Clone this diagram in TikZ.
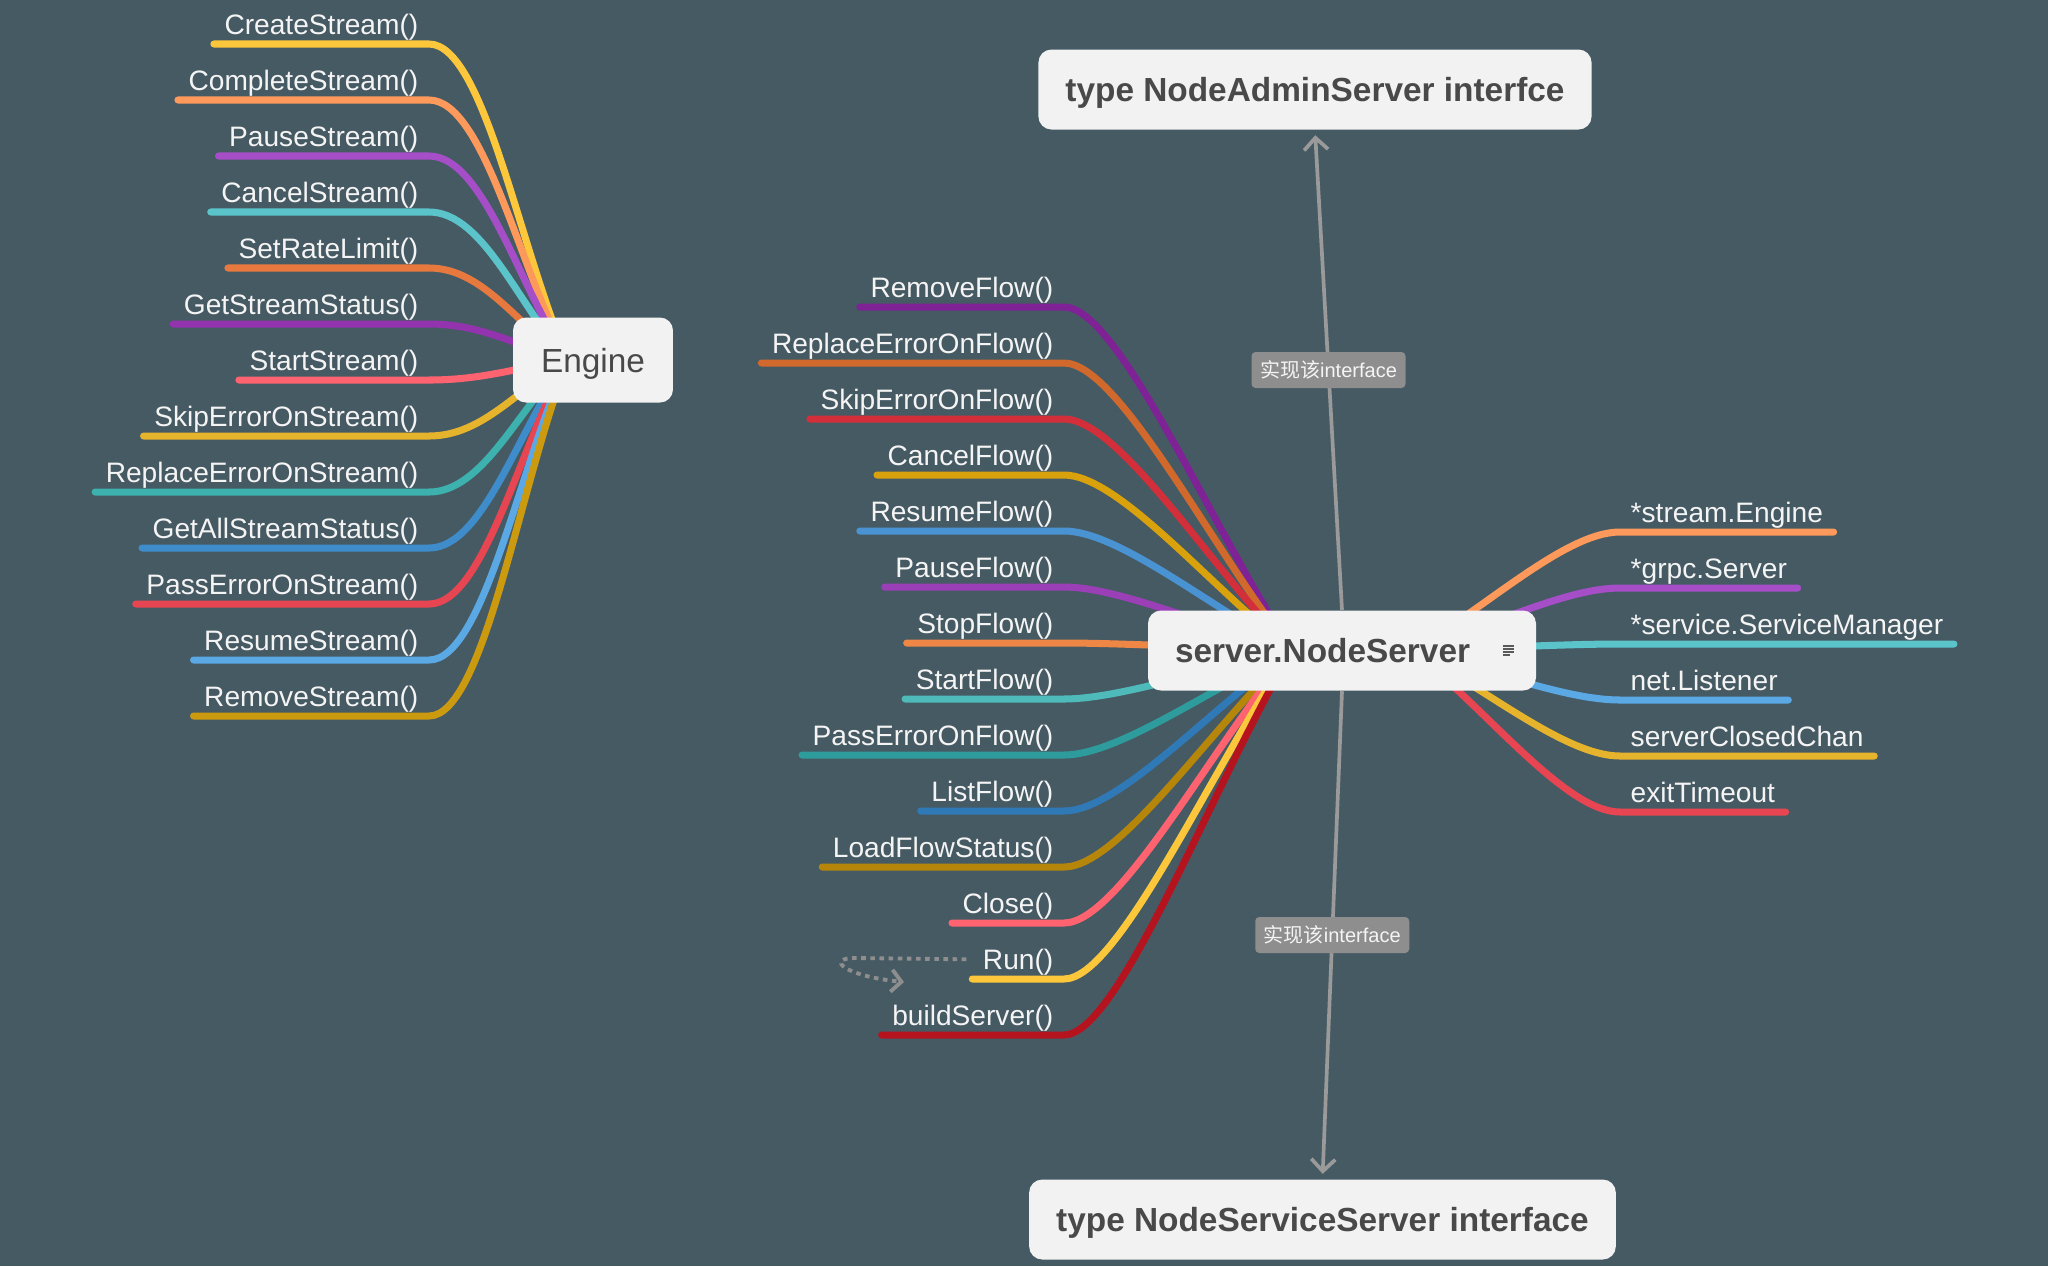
\documentclass[tikz,border=0pt]{standalone}
\usepackage{fontspec}
\setmainfont{Liberation Sans}
\newfontfamily\cjk{Noto Sans CJK SC}
\usetikzlibrary{calc,arrows.meta}

\definecolor{slate}{HTML}{465A64}
\definecolor{boxwhite}{HTML}{F2F2F2}
\definecolor{boxgray}{HTML}{494949}
\definecolor{labelwhite}{HTML}{F4F4F4}
\definecolor{taggray}{HTML}{8E8E8E}
\definecolor{linkgray}{HTML}{9A9A9A}
\definecolor{notegray}{HTML}{5A5A5A}

\definecolor{yellow}{HTML}{FCC73A}
\definecolor{apricot}{HTML}{FD9A5B}
\definecolor{violet}{HTML}{A54EC8}
\definecolor{aqua}{HTML}{5BC4CB}
\definecolor{tangerine}{HTML}{E8793E}
\definecolor{plum}{HTML}{9333AE}
\definecolor{coral}{HTML}{FF6370}
\definecolor{gold}{HTML}{E6B32C}
\definecolor{teal}{HTML}{3DB1AD}
\definecolor{azure}{HTML}{3F8CCB}
\definecolor{crimson}{HTML}{E84553}
\definecolor{sky}{HTML}{5AA9E4}
\definecolor{ochre}{HTML}{CC9A0E}
\definecolor{grape}{HTML}{7E2296}
\definecolor{rust}{HTML}{D2692C}
\definecolor{scarlet}{HTML}{D32F3A}
\definecolor{amber}{HTML}{D9A10C}
\definecolor{cobalt}{HTML}{4A93D2}
\definecolor{orchid}{HTML}{9B3FB6}
\definecolor{carrot}{HTML}{EE8746}
\definecolor{lagoon}{HTML}{4EBABA}
\definecolor{deepteal}{HTML}{2E9C9C}
\definecolor{navy}{HTML}{2F79B7}
\definecolor{bronze}{HTML}{B5860A}
\definecolor{maroon}{HTML}{B5141F}

\pgfdeclarelayer{wires}
\pgfsetlayers{wires,main}

\tikzset{
	fn/.style={font=\fontsize{8}{9}\selectfont, text=labelwhite, inner xsep=0.1cm, inner ysep=0pt, text height=0.21cm, text depth=0.09cm},
	hubbox/.style={fill=boxwhite, text=boxgray, rounded corners=0.13cm, minimum height=0.8cm, inner xsep=0.27cm, text height=0.24cm, text depth=0cm, font=\fontsize{9.5}{11}\selectfont\bfseries},
	branch/.style={draw=#1, line width=2pt, line cap=round},
	limb/.style={to path={.. controls ($(\tikztostart)!0.35!(\tikztotarget)$) and ($(\tikztotarget)+(#1,0)$) .. (\tikztotarget)}},
	link/.style={draw=linkgray, line width=1.05pt, shorten >=0.05cm, -{Straight Barb[length=0.12cm,width=0.24cm]}},
	tag/.style={fill=taggray, text=labelwhite, rounded corners=0.04cm, minimum width=1.54cm, minimum height=0.36cm, inner sep=0pt, font=\fontsize{5.7}{6}\selectfont},
	loopy/.style={draw=taggray, line width=1.1pt, dash pattern=on 1.3pt off 1.3pt, -{Straight Barb[length=0.1cm,width=0.22cm]}}
}

\begin{document}
\begin{tikzpicture}
	\begin{pgfonlayer}{wires}
		\fill[slate] (0,0) rectangle (20.48,-12.66);
	\end{pgfonlayer}

	% Hub boxes
	\node[hubbox, minimum height=0.85cm, inner xsep=0.28cm, font=\fontsize{9.5}{11}\selectfont] (engine) at (5.93,-3.60) {Engine};
	\node[hubbox, text width=3.34cm, align=left] (srv) at (13.42,-6.505) {server.NodeServer};
	\node[hubbox] (admin) at (13.15,-0.895) {type NodeAdminServer interfce};
	\node[hubbox] (svc) at (13.225,-12.195) {type NodeServiceServer interface};

	\coordinate (hubE) at ($(engine.center)+(-0.25,0)$);
	\coordinate (hubL) at ($(srv.center)+(-0.50,0)$);
	\coordinate (hubR) at ($(srv.center)+(0.70,0)$);

	% note icon
	\draw[notegray, line width=0.5pt]
		($(srv.east)+(-0.34,0.045)$) -- +(0.11,0)
		($(srv.east)+(-0.34,0.015)$) -- +(0.11,0)
		($(srv.east)+(-0.34,-0.015)$) -- +(0.11,0)
		($(srv.east)+(-0.34,-0.045)$) -- +(0.07,0);

	% Engine methods
	\node[fn, anchor=south east] (es1) at (4.29,-0.44) {CreateStream()};
	\node[fn, anchor=south east] (es2) at (4.29,-1.00) {CompleteStream()};
	\node[fn, anchor=south east] (es3) at (4.29,-1.56) {PauseStream()};
	\node[fn, anchor=south east] (es4) at (4.29,-2.12) {CancelStream()};
	\node[fn, anchor=south east] (es5) at (4.29,-2.68) {SetRateLimit()};
	\node[fn, anchor=south east] (es6) at (4.29,-3.24) {GetStreamStatus()};
	\node[fn, anchor=south east] (es7) at (4.29,-3.80) {StartStream()};
	\node[fn, anchor=south east] (es8) at (4.29,-4.36) {SkipErrorOnStream()};
	\node[fn, anchor=south east] (es9) at (4.29,-4.92) {ReplaceErrorOnStream()};
	\node[fn, anchor=south east] (es10) at (4.29,-5.48) {GetAllStreamStatus()};
	\node[fn, anchor=south east] (es11) at (4.29,-6.04) {PassErrorOnStream()};
	\node[fn, anchor=south east] (es12) at (4.29,-6.60) {ResumeStream()};
	\node[fn, anchor=south east] (es13) at (4.29,-7.16) {RemoveStream()};

	% NodeServer methods
	\node[fn, anchor=south east] (sf1) at (10.64,-3.07) {RemoveFlow()};
	\node[fn, anchor=south east] (sf2) at (10.64,-3.63) {ReplaceErrorOnFlow()};
	\node[fn, anchor=south east] (sf3) at (10.64,-4.19) {SkipErrorOnFlow()};
	\node[fn, anchor=south east] (sf4) at (10.64,-4.75) {CancelFlow()};
	\node[fn, anchor=south east] (sf5) at (10.64,-5.31) {ResumeFlow()};
	\node[fn, anchor=south east] (sf6) at (10.64,-5.87) {PauseFlow()};
	\node[fn, anchor=south east] (sf7) at (10.64,-6.43) {StopFlow()};
	\node[fn, anchor=south east] (sf8) at (10.64,-6.99) {StartFlow()};
	\node[fn, anchor=south east] (sf9) at (10.64,-7.55) {PassErrorOnFlow()};
	\node[fn, anchor=south east] (sf10) at (10.64,-8.11) {ListFlow()};
	\node[fn, anchor=south east] (sf11) at (10.64,-8.67) {LoadFlowStatus()};
	\node[fn, anchor=south east] (sf12) at (10.64,-9.23) {Close()};
	\node[fn, anchor=south east] (sf13) at (10.64,-9.79) {Run()};
	\node[fn, anchor=south east] (sf14) at (10.64,-10.35) {buildServer()};

	% NodeServer fields
	\node[fn, anchor=south west] (sr1) at (16.20,-5.32) {*stream.Engine};
	\node[fn, anchor=south west] (sr2) at (16.20,-5.88) {*grpc.Server};
	\node[fn, anchor=south west] (sr3) at (16.20,-6.44) {*service.ServiceManager};
	\node[fn, anchor=south west] (sr4) at (16.20,-7.00) {net.Listener};
	\node[fn, anchor=south west] (sr5) at (16.20,-7.56) {serverClosedChan};
	\node[fn, anchor=south west] (sr6) at (16.20,-8.12) {exitTimeout};

	\begin{pgfonlayer}{wires}
		\draw[branch=yellow] (hubE) to[limb=0.55] (es1.south east) -- (es1.south west);
		\draw[branch=apricot] (hubE) to[limb=0.55] (es2.south east) -- (es2.south west);
		\draw[branch=violet] (hubE) to[limb=0.55] (es3.south east) -- (es3.south west);
		\draw[branch=aqua] (hubE) to[limb=0.55] (es4.south east) -- (es4.south west);
		\draw[branch=tangerine] (hubE) to[limb=0.55] (es5.south east) -- (es5.south west);
		\draw[branch=plum] (hubE) to[limb=0.55] (es6.south east) -- (es6.south west);
		\draw[branch=coral] (hubE) to[limb=0.55] (es7.south east) -- (es7.south west);
		\draw[branch=gold] (hubE) to[limb=0.55] (es8.south east) -- (es8.south west);
		\draw[branch=teal] (hubE) to[limb=0.55] (es9.south east) -- (es9.south west);
		\draw[branch=azure] (hubE) to[limb=0.55] (es10.south east) -- (es10.south west);
		\draw[branch=crimson] (hubE) to[limb=0.55] (es11.south east) -- (es11.south west);
		\draw[branch=sky] (hubE) to[limb=0.55] (es12.south east) -- (es12.south west);
		\draw[branch=ochre] (hubE) to[limb=0.55] (es13.south east) -- (es13.south west);

		\draw[branch=grape] (hubL) to[limb=0.55] (sf1.south east) -- (sf1.south west);
		\draw[branch=rust] (hubL) to[limb=0.55] (sf2.south east) -- (sf2.south west);
		\draw[branch=scarlet] (hubL) to[limb=0.55] (sf3.south east) -- (sf3.south west);
		\draw[branch=amber] (hubL) to[limb=0.55] (sf4.south east) -- (sf4.south west);
		\draw[branch=cobalt] (hubL) to[limb=0.55] (sf5.south east) -- (sf5.south west);
		\draw[branch=orchid] (hubL) to[limb=0.55] (sf6.south east) -- (sf6.south west);
		\draw[branch=carrot] (hubL) to[limb=0.55] (sf7.south east) -- (sf7.south west);
		\draw[branch=lagoon] (hubL) to[limb=0.55] (sf8.south east) -- (sf8.south west);
		\draw[branch=deepteal] (hubL) to[limb=0.55] (sf9.south east) -- (sf9.south west);
		\draw[branch=navy] (hubL) to[limb=0.55] (sf10.south east) -- (sf10.south west);
		\draw[branch=bronze] (hubL) to[limb=0.55] (sf11.south east) -- (sf11.south west);
		\draw[branch=coral] (hubL) to[limb=0.55] (sf12.south east) -- (sf12.south west);
		\draw[branch=yellow] (hubL) to[limb=0.55] (sf13.south east) -- (sf13.south west);
		\draw[branch=maroon] (hubL) to[limb=0.55] (sf14.south east) -- (sf14.south west);

		\draw[branch=apricot] (hubR) to[limb=-0.55] (sr1.south west) -- (sr1.south east);
		\draw[branch=violet] (hubR) to[limb=-0.55] (sr2.south west) -- (sr2.south east);
		\draw[branch=aqua] (hubR) to[limb=-0.55] (sr3.south west) -- (sr3.south east);
		\draw[branch=sky] (hubR) to[limb=-0.55] (sr4.south west) -- (sr4.south east);
		\draw[branch=gold] (hubR) to[limb=-0.55] (sr5.south west) -- (sr5.south east);
		\draw[branch=crimson] (hubR) to[limb=-0.55] (sr6.south west) -- (sr6.south east);
	\end{pgfonlayer}

	% interface links
	\draw[link] (srv.north) -- node[tag] {{\cjk 实现该}interface} (admin.south);
	\draw[link] (srv.south) -- node[tag] {{\cjk 实现该}interface} (svc.north);

	% self loop at Run()
	\coordinate (loopend) at (9.04,-9.82);
	\draw[loopy] ($(sf13.west)+(-0.06,0.04)$) -- (8.55,-9.58) .. controls +(-0.3,0) and ($(loopend)+(-0.6,0.06)$) .. (loopend);
\end{tikzpicture}
\end{document}
